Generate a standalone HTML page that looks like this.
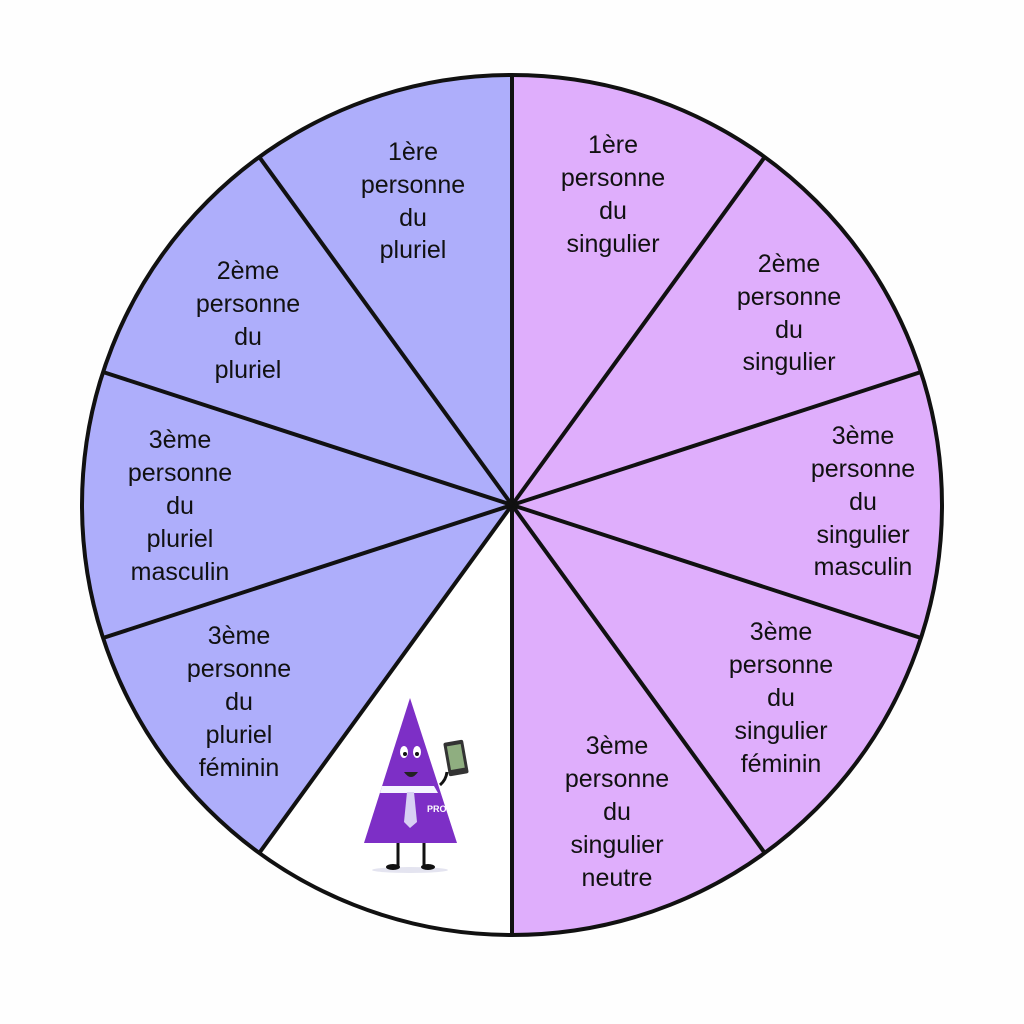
<!DOCTYPE html>
<html><head><meta charset="utf-8"><style>html,body{margin:0;padding:0;background:#fff}svg{display:block}</style></head>
<body>
<svg width="1024" height="1024" viewBox="0 0 1024 1024" xmlns="http://www.w3.org/2000/svg">
<rect width="1024" height="1024" fill="#fefefe"/>
<g stroke="none">
<path d="M512 505 L512 75 A430 430 0 0 1 512 935 Z" fill="#dfaefc"/>
<path d="M512 505 L512 75 A430 430 0 0 0 259.3 852.9 Z" fill="#aeaefb"/>
<path d="M512 505 L259.3 852.9 A430 430 0 0 0 512 935 Z" fill="#ffffff"/>
</g>
<g stroke="#111" stroke-width="4" fill="none">
<circle cx="512" cy="505" r="430"/>
<line x1="512" y1="505" x2="512" y2="75"/>
<line x1="512" y1="505" x2="764.7" y2="157.1"/>
<line x1="512" y1="505" x2="921" y2="372"/>
<line x1="512" y1="505" x2="921" y2="638"/>
<line x1="512" y1="505" x2="764.7" y2="852.9"/>
<line x1="512" y1="505" x2="512" y2="935"/>
<line x1="512" y1="505" x2="259.3" y2="852.9"/>
<line x1="512" y1="505" x2="103" y2="638"/>
<line x1="512" y1="505" x2="103" y2="372"/>
<line x1="512" y1="505" x2="259.3" y2="157.1"/>
</g>
<g font-family="Liberation Sans, sans-serif" font-size="25" fill="#111" text-anchor="middle">
<text x="613"><tspan x="613" y="153">1ère</tspan><tspan x="613" y="186">personne</tspan><tspan x="613" y="219">du</tspan><tspan x="613" y="252">singulier</tspan></text>
<text><tspan x="789" y="272">2ème</tspan><tspan x="789" y="305">personne</tspan><tspan x="789" y="338">du</tspan><tspan x="789" y="370">singulier</tspan></text>
<text><tspan x="863" y="444">3ème</tspan><tspan x="863" y="477">personne</tspan><tspan x="863" y="510">du</tspan><tspan x="863" y="543">singulier</tspan><tspan x="863" y="575">masculin</tspan></text>
<text><tspan x="781" y="640">3ème</tspan><tspan x="781" y="673">personne</tspan><tspan x="781" y="706">du</tspan><tspan x="781" y="739">singulier</tspan><tspan x="781" y="772">féminin</tspan></text>
<text><tspan x="617" y="754">3ème</tspan><tspan x="617" y="787">personne</tspan><tspan x="617" y="820">du</tspan><tspan x="617" y="853">singulier</tspan><tspan x="617" y="886">neutre</tspan></text>
<text><tspan x="413" y="160">1ère</tspan><tspan x="413" y="193">personne</tspan><tspan x="413" y="226">du</tspan><tspan x="413" y="258">pluriel</tspan></text>
<text><tspan x="248" y="279">2ème</tspan><tspan x="248" y="312">personne</tspan><tspan x="248" y="345">du</tspan><tspan x="248" y="378">pluriel</tspan></text>
<text><tspan x="180" y="448">3ème</tspan><tspan x="180" y="481">personne</tspan><tspan x="180" y="514">du</tspan><tspan x="180" y="547">pluriel</tspan><tspan x="180" y="580">masculin</tspan></text>
<text><tspan x="239" y="644">3ème</tspan><tspan x="239" y="677">personne</tspan><tspan x="239" y="710">du</tspan><tspan x="239" y="743">pluriel</tspan><tspan x="239" y="776">féminin</tspan></text>
</g>
<!-- character -->
<g>
<ellipse cx="410" cy="870" rx="38" ry="3" fill="#e4e4f0"/>
<line x1="398" y1="842" x2="398" y2="866" stroke="#111" stroke-width="3"/>
<line x1="424" y1="842" x2="424" y2="866" stroke="#111" stroke-width="3"/>
<ellipse cx="393" cy="867" rx="7" ry="3" fill="#111"/>
<ellipse cx="428" cy="867" rx="7" ry="3" fill="#111"/>
<path d="M410 698 L457 843 L364 843 Z" fill="#7d2fc6"/>
<path d="M382 786 L434 786 L438 793 L380 793 Z" fill="#f4f4ff"/>
<path d="M407 792 L414 792 L417 822 L410 828 L404 822 Z" fill="#d8d0f4"/>
<ellipse cx="404" cy="752" rx="4" ry="6" fill="#fff"/>
<ellipse cx="417" cy="752" rx="4" ry="6" fill="#fff"/>
<circle cx="405" cy="754" r="2" fill="#111"/>
<circle cx="417" cy="754" r="2" fill="#111"/>
<path d="M404 772 Q411 782 418 772 Z" fill="#222"/>
<rect x="446" y="741" width="20" height="34" rx="2" fill="#333" transform="rotate(-10 456 758)"/>
<rect x="449" y="745" width="14" height="24" fill="#8fae80" transform="rotate(-10 456 758)"/>
<path d="M440 785 Q446 780 447 772" stroke="#111" stroke-width="3" fill="none"/>
<text x="427" y="812" font-family="Liberation Sans, sans-serif" font-size="9" font-weight="bold" fill="#fff">PRO</text>
</g>
</svg>
</body></html>
